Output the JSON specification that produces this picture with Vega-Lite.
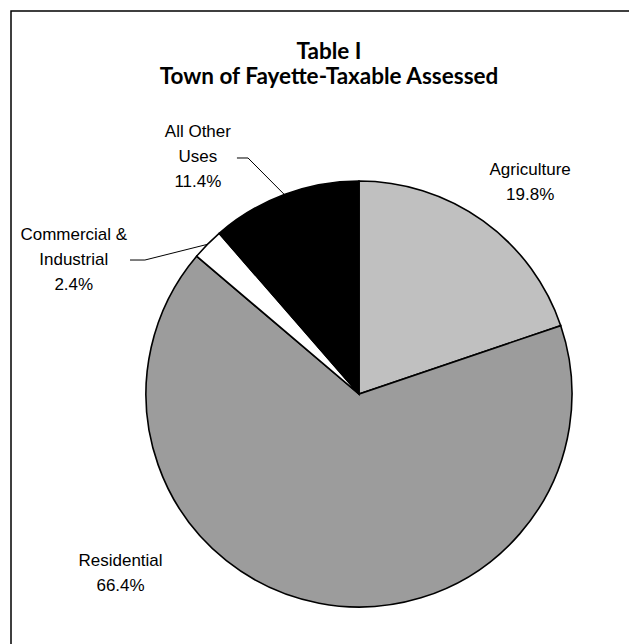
{
  "$schema": "https://vega.github.io/schema/vega-lite/v6.json",
  "width": 696,
  "height": 766,
  "autosize": {"type": "none"},
  "padding": {"left": 11, "top": 11, "right": -78, "bottom": -133},
  "background": "white",
  "config": {
    "view": {"stroke": "black", "strokeWidth": 1.5},
    "font": "Liberation Sans"
  },
  "title": {
    "text": ["Table I", "Town of Fayette-Taxable Assessed"],
    "font": "Lato",
    "fontWeight": "bold",
    "fontSize": 22.5,
    "lineHeight": 25,
    "anchor": "middle",
    "frame": "group",
    "orient": "top",
    "offset": -100,
    "baseline": "bottom",
    "dx": -30,
    "color": "black"
  },
  "data": {
    "values": [
      {"category": "Agriculture", "share": 19.8, "order": 1},
      {"category": "Residential", "share": 66.4, "order": 2},
      {"category": "Commercial & Industrial", "share": 2.4, "order": 3},
      {"category": "All Other Uses", "share": 11.4, "order": 4}
    ]
  },
  "transform": [
    {"window": [{"op": "sum", "field": "share", "as": "cumEnd"}], "sort": [{"field": "order"}], "frame": [null, 0]},
    {"calculate": "datum.cumEnd - datum.share", "as": "cumStart"},
    {"calculate": "datum.cumEnd - datum.share / 2", "as": "mid"},
    {"calculate": "sin(datum.mid / 100 * 2 * PI)", "as": "edgeX"},
    {"calculate": "cos(datum.mid / 100 * 2 * PI)", "as": "edgeY"},
    {"calculate": "datum.category === 'All Other Uses' ? ['All Other', 'Uses', format(datum.share, '.1f') + '%'] : datum.category === 'Commercial & Industrial' ? ['Commercial &', 'Industrial', format(datum.share, '.1f') + '%'] : [datum.category, format(datum.share, '.1f') + '%']", "as": "label"}
  ],
  "layer": [
    {
      "mark": {"type": "arc", "outerRadius": 213, "stroke": "black", "strokeWidth": 1.6},
      "encoding": {
        "theta": {"field": "cumStart", "type": "quantitative", "stack": null, "scale": {"domain": [0, 100]}},
        "theta2": {"field": "cumEnd"},
        "color": {
          "field": "category",
          "type": "nominal",
          "scale": {
            "domain": ["Agriculture", "Residential", "Commercial & Industrial", "All Other Uses"],
            "range": ["#c0c0c0", "#9c9c9c", "#ffffff", "#000000"]
          },
          "legend": null
        }
      }
    },
    {
      "transform": [{"filter": "datum.category === 'All Other Uses' || datum.category === 'Commercial & Industrial'"},
        {"calculate": "datum.category === 'All Other Uses' ? -0.521 : -1.005", "as": "elbowX"},
        {"calculate": "datum.category === 'All Other Uses' ? 1.108 : 0.629", "as": "elbowY"}],
      "mark": {"type": "rule", "color": "black", "strokeWidth": 1},
      "encoding": {
        "x": {"field": "edgeX", "type": "quantitative", "scale": {"domain": [-1.6338, 1.6338], "nice": false, "zero": false}, "axis": null},
        "y": {"field": "edgeY", "type": "quantitative", "scale": {"domain": [-1.7981, 1.7981], "nice": false, "zero": false}, "axis": null},
        "x2": {"field": "elbowX"},
        "y2": {"field": "elbowY"}
      }
    },
    {
      "transform": [{"filter": "datum.category === 'All Other Uses' || datum.category === 'Commercial & Industrial'"},
        {"calculate": "datum.category === 'All Other Uses' ? -0.521 : -1.005", "as": "elbowX"},
        {"calculate": "datum.category === 'All Other Uses' ? 1.108 : 0.629", "as": "elbowY"},
        {"calculate": "datum.category === 'All Other Uses' ? -0.573 : -1.075", "as": "endX"}],
      "mark": {"type": "rule", "color": "black", "strokeWidth": 1},
      "encoding": {
        "x": {"field": "elbowX", "type": "quantitative", "axis": null},
        "y": {"field": "elbowY", "type": "quantitative", "axis": null},
        "x2": {"field": "endX"},
        "y2": {"field": "elbowY"}
      }
    },
    {
      "transform": [{"filter": {"field": "category", "equal": "Agriculture"}}],
      "mark": {"type": "text", "radius": 280, "dx": 8, "dy": 3.5, "fontSize": 17, "lineHeight": 25, "align": "center", "baseline": "middle", "color": "black"},
      "encoding": {
        "theta": {"field": "mid", "type": "quantitative", "stack": null},
        "text": {"field": "label"}
      }
    },
    {
      "transform": [{"filter": {"field": "category", "equal": "Residential"}}],
      "mark": {"type": "text", "radius": 280, "dx": -186, "dy": -108.5, "fontSize": 17, "lineHeight": 25, "align": "center", "baseline": "middle", "color": "black"},
      "encoding": {
        "theta": {"field": "mid", "type": "quantitative", "stack": null},
        "text": {"field": "label"}
      }
    },
    {
      "transform": [{"filter": {"field": "category", "equal": "Commercial & Industrial"}}],
      "mark": {"type": "text", "radius": 280, "dx": -86, "dy": 38, "fontSize": 17, "lineHeight": 25, "align": "center", "baseline": "middle", "color": "black"},
      "encoding": {
        "theta": {"field": "mid", "type": "quantitative", "stack": null},
        "text": {"field": "label"}
      }
    },
    {
      "transform": [{"filter": {"field": "category", "equal": "All Other Uses"}}],
      "mark": {"type": "text", "radius": 280, "dx": -63, "dy": 0, "fontSize": 17, "lineHeight": 25, "align": "center", "baseline": "middle", "color": "black"},
      "encoding": {
        "theta": {"field": "mid", "type": "quantitative", "stack": null},
        "text": {"field": "label"}
      }
    }
  ]
}
